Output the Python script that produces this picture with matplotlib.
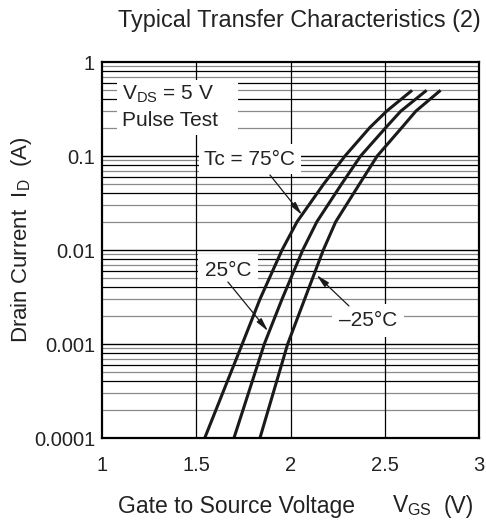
import matplotlib
matplotlib.use("Agg")
import matplotlib.pyplot as plt
from matplotlib.patches import Rectangle
import numpy as np

plt.rcParams['font.family'] = ['Liberation Sans', 'DejaVu Sans']

# Drain current levels (A) read at gridlines
current = [1e-4, 1e-3, 3e-3, 1e-2, 2e-2, 5e-2, 0.1, 0.2, 0.3, 0.5]
# Gate-source voltage (V) for each temperature
vgs_75 = [1.545, 1.744, 1.838, 1.955, 2.035, 2.175, 2.289, 2.42, 2.51, 2.645]
vgs_25 = [1.70, 1.861, 1.955, 2.065, 2.14, 2.27, 2.372, 2.505, 2.585, 2.722]
vgs_m25 = [1.838, 1.985, 2.075, 2.174, 2.24, 2.365, 2.46, 2.59, 2.665, 2.796]

x_ticks = [1, 1.5, 2, 2.5, 3]
x_ticklabels = ["1", "1.5", "2", "2.5", "3"]
y_ticks = [1e-4, 1e-3, 1e-2, 1e-1, 1]
y_ticklabels = ["0.0001", "0.001", "0.01", "0.1", "1"]

fig = plt.figure(figsize=(4.86, 5.27), dpi=100)
ax = fig.add_axes([102/486, 1-438/527, (479-102)/486, (438-62)/527])
ax.set_xlim(1, 3)
ax.set_ylim(1e-4, 1)
ax.set_yscale('log')

# grid
for d in [1e-4, 1e-3, 1e-2, 1e-1]:
    for k in range(2, 10):
        col = '#000000' if k in (4, 6, 8) else '#8a8a8a'
        ax.axhline(d * k, color=col, lw=0.9, zorder=1)
    ax.axhline(d, color='black', lw=1.0, zorder=1)
for xv in [1.5, 2, 2.5]:
    ax.axvline(xv, color='black', lw=0.9, zorder=1)

for vs in (vgs_75, vgs_25, vgs_m25):
    ax.plot(vs, current, color='#1a1a1a', lw=2.2, solid_capstyle='butt',
            solid_joinstyle='round', zorder=5)

ax.set_xticks(x_ticks)
ax.set_xticklabels(x_ticklabels)
ax.set_yticks(y_ticks)
ax.set_yticklabels(y_ticklabels)
ax.minorticks_off()
ax.tick_params(length=0, labelsize=14.5, colors='#222222', pad=5)
ax.tick_params(axis='x', pad=13)
for s in ax.spines.values():
    s.set_linewidth(1.6)
    s.set_zorder(6)

# labels
tc = '#222222'
fig.text(481/486, 1-20/527, "Typical Transfer Characteristics (2)", ha='right', va='center',
         fontsize=16.8, color=tc)
fig.text(22/486, 1-240/527, "Drain Current  I$_\\mathregular{D}$  (A)", rotation=90,
         ha='center', va='center', fontsize=16, color=tc)
fig.text(118/486, 1-506/527, "Gate to Source Voltage", ha='left', va='center',
         fontsize=16.5, color=tc)
fig.text(392/486, 1-506/527, "V$_\\mathregular{GS}$", ha='left', va='center',
         fontsize=16.5, color=tc)
fig.text(474/486, 1-506/527, "(V)", ha='right', va='center', fontsize=16.5, color=tc)

# white box behind the test-condition text
ax.add_patch(Rectangle((0.040, 0.806), 0.321, 0.146, transform=ax.transAxes,
                       facecolor='white', edgecolor='none', zorder=3))
ax.text(1.106, 0.457, "V$_\\mathregular{DS}$ = 5 V", fontsize=15, color=tc,
        ha='left', va='center', zorder=7)
ax.text(1.106, 0.239, "Pulse Test", fontsize=15, color=tc,
        ha='left', va='center', zorder=7)

bbox = dict(facecolor='white', edgecolor='none', pad=4)
ax.text(1.785, 0.0929, "Tc = 75\u00b0C", fontsize=15, color=tc, ha='center', va='center',
        zorder=7, bbox=bbox)
ax.text(1.668, 0.0061, "25\u00b0C", fontsize=15, color=tc, ha='center', va='center',
        zorder=7, bbox=dict(facecolor='white', edgecolor='none', pad=5))
ax.text(2.411, 0.00178, "\u201325\u00b0C", fontsize=15, color=tc, ha='center', va='center',
        zorder=7, bbox=dict(facecolor='white', edgecolor='none', pad=5))

arrow = dict(arrowstyle='-|>,head_length=0.8,head_width=0.18', color='#1a1a1a', lw=0.9,
             shrinkA=0, shrinkB=0)
ax.annotate("", xy=(2.061, 0.0236), xytext=(1.891, 0.0628), arrowprops=arrow, zorder=7)
ax.annotate("", xy=(1.881, 0.00137), xytext=(1.668, 0.00457), arrowprops=arrow, zorder=7)
ax.annotate("", xy=(2.138, 0.00542), xytext=(2.31, 0.00254), arrowprops=arrow, zorder=7)

fig.savefig("out.png", dpi=100)
